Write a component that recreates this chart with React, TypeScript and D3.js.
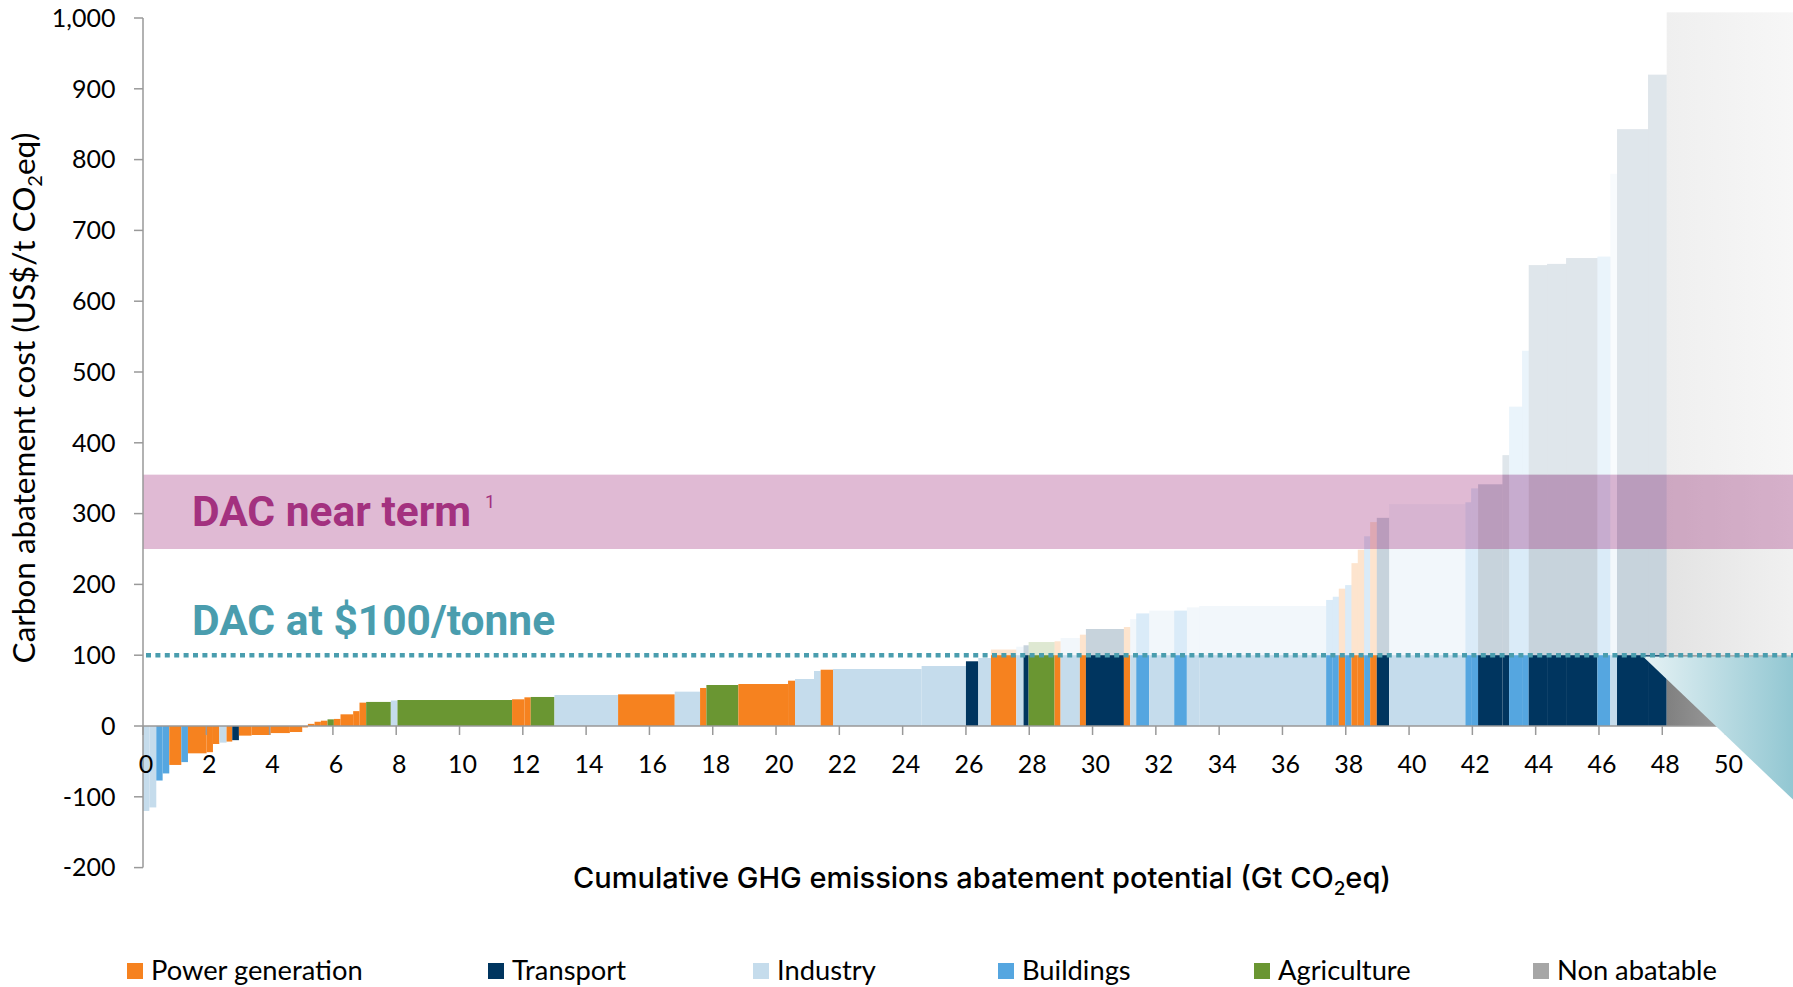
import React from 'react';
import * as d3 from 'd3';

// Sector categories and their colours
const PG = 'Power generation';
const TR = 'Transport';
const IN = 'Industry';
const BU = 'Buildings';
const AG = 'Agriculture';
const NA = 'Non abatable';
const sectors = [PG, TR, IN, BU, AG, NA];
const sectorColors = ['#F6821F', '#00355F', '#C5DCEC', '#55A6E0', '#6A9632', '#A6A6A6'];

// Abatement measures in merit order: sector, potential (Gt CO2eq), cost (US$/t CO2eq)
const measureSector = [
  IN, IN, BU, BU, PG, BU, PG, PG, PG, IN,
  PG, TR, PG, PG, PG, PG, PG, PG, PG, PG,
  AG, PG, PG, PG, PG, AG, IN, AG, PG, PG,
  AG, IN, PG, IN, PG, AG, PG, PG, IN, IN,
  PG, IN, IN, TR, IN, PG, IN, TR, AG, PG,
  IN, PG, TR, PG, IN, BU, IN, BU, IN, IN,
  BU, BU, PG, BU, PG, PG, BU, PG, TR, IN,
  BU, BU, TR, TR, BU, BU, TR, TR, TR, BU,
  IN, TR, TR, NA,
];
const measurePotential = [
  0.20, 0.22, 0.20, 0.21, 0.38, 0.21, 0.59, 0.20, 0.20, 0.23,
  0.18, 0.21, 0.40, 0.60, 0.61, 0.39, 0.18, 0.21, 0.20, 0.21,
  0.20, 0.21, 0.40, 0.20, 0.21, 0.78, 0.21, 3.62, 0.39, 0.20,
  0.75, 2.01, 1.79, 0.80, 0.20, 1.01, 1.57, 0.22, 0.60, 0.21,
  0.39, 2.80, 1.40, 0.39, 0.40, 0.80, 0.23, 0.16, 0.82, 0.19,
  0.61, 0.19, 1.20, 0.20, 0.19, 0.41, 0.79, 0.40, 0.39, 4.01,
  0.21, 0.19, 0.20, 0.20, 0.20, 0.20, 0.19, 0.21, 0.39, 2.41,
  0.18, 0.22, 0.77, 0.21, 0.41, 0.21, 0.58, 0.60, 0.99, 0.41,
  0.21, 0.98, 0.59, 4.10,
];
const measureCost = [
  -120, -115, -77, -67, -55, -51, -38.6, -37, -25.4, -23.5,
  -22, -20, -13.6, -12.7, -10, -8.5, -2, 3, 6, 7.5,
  9.4, 10, 16.5, 21, 33, 34, 36, 36.7, 37.7, 40.5,
  41, 43.8, 44.7, 48.5, 53.7, 57.9, 59.3, 64, 66.4, 77.7,
  79.5, 80.5, 84.7, 91.4, 96, 108, 112, 114, 118.6, 119.6,
  124.3, 129, 137, 139.8, 151, 159, 163, 163, 167.5, 169.5,
  178, 182.6, 194, 199, 230, 249, 268, 288, 294, 313.5,
  316, 335.6, 341.4, 382.6, 451, 530, 651, 652.7, 661, 663,
  780, 843, 920, 1008,
];

// Direct air capture reference costs (US$/t CO2eq)
const dacTargetCost = 100;
const dacNearTermRange = [250, 355];
// DAC wedge: cumulative potential (Gt) and cost (US$/t)
const dacWedge: [number, number][] = [[47.39, 98], [52.6, 98], [52.6, -124]];

// Axis ticks
const xTicks = d3.range(0, 51, 2);
const yTicks = d3.range(-200, 1001, 100);

const W = 1793;
const H = 987;

const x = d3.scaleLinear().domain([0, 52.13]).range([143, 1793]);
const y = d3.scaleLinear().domain([-200, 1000]).range([867.6, 18]);

const colorOf = d3.scaleOrdinal<string, string>().domain(sectors).range(sectorColors);
const fmtY = (v: number) => d3.format(',')(v).replace('\u2212', '-');

// Cumulative starts
const starts = measurePotential.reduce<number[]>((acc, w, i) => {
  acc.push(i === 0 ? 0 : acc[i - 1] + measurePotential[i - 1]);
  return acc;
}, []);

const measures = measureSector.map((s, i) => ({
  sector: s,
  x0: starts[i],
  x1: starts[i] + measurePotential[i],
  cost: measureCost[i],
}));

// Each bar: solid up to the DAC target, faded above it, fainter still above the near-term band
type Seg = { x0: number; x1: number; lo: number; hi: number; fill: string; op: number; key: string };
const segments: Seg[] = [];
measures.forEach((m, i) => {
  const fill = m.sector === NA ? 'url(#naGrad)' : colorOf(m.sector);
  if (m.cost < 0) {
    segments.push({ x0: m.x0, x1: m.x1, lo: m.cost, hi: 0, fill, op: 1, key: `s${i}` });
    return;
  }
  segments.push({ x0: m.x0, x1: m.x1, lo: 0, hi: Math.min(m.cost, dacTargetCost), fill, op: 1, key: `s${i}` });
  if (m.cost > dacTargetCost) {
    segments.push({ x0: m.x0, x1: m.x1, lo: dacTargetCost, hi: Math.min(m.cost, dacNearTermRange[1]), fill, op: 0.22, key: `m${i}` });
  }
  if (m.cost > dacNearTermRange[1]) {
    segments.push({ x0: m.x0, x1: m.x1, lo: dacNearTermRange[1], hi: m.cost, fill, op: 0.125, key: `u${i}` });
  }
});

const naStart = measures[measures.length - 1].x0;

const wedgePath = d3.line<[number, number]>()
  .x((d) => x(d[0]))
  .y((d) => y(d[1]))
  .curve(d3.curveLinearClosed)(dacWedge) as string;

const legendX = [127, 488, 753, 998, 1254, 1533];

export default function App() {
  return (
    <svg
      width={W}
      height={H}
      viewBox={`0 0 ${W} ${H}`}
      style={{ position: 'absolute', left: 0, top: 0, background: '#fff' }}
    >
      <defs>
        <linearGradient id="naGrad" gradientUnits="userSpaceOnUse" x1={x(naStart)} y1={0} x2={W} y2={0}>
          <stop offset="0" stopColor="#808080" />
          <stop offset="1" stopColor="#bcbcbc" />
        </linearGradient>
        <linearGradient id="dacGrad" gradientUnits="userSpaceOnUse" x1={x(dacWedge[0][0])} y1={0} x2={W} y2={0}>
          <stop offset="0" stopColor="#E6F2F5" />
          <stop offset="1" stopColor="#92C7D2" />
        </linearGradient>
      </defs>

      {/* abatement cost bars */}
      <g>
        {segments.map((s) => (
          <rect
            key={s.key}
            x={x(s.x0)}
            width={x(s.x1) - x(s.x0)}
            y={y(s.hi)}
            height={y(s.lo) - y(s.hi)}
            fill={s.fill}
            fillOpacity={s.op}
          />
        ))}
      </g>

      {/* DAC near-term cost band */}
      <rect
        x={x(0)}
        width={W - x(0)}
        y={y(dacNearTermRange[1])}
        height={y(dacNearTermRange[0]) - y(dacNearTermRange[1])}
        fill="#A3307F"
        fillOpacity={0.333}
      />

      {/* y axis */}
      <g fontFamily="Lato, sans-serif" fontSize={25} fill="#000">
        <line x1={x(0)} x2={x(0)} y1={y(1000)} y2={y(-200)} stroke="#999" strokeWidth={1.5} />
        {yTicks.map((t) => (
          <g key={t}>
            <line x1={x(0) - 9} x2={x(0)} y1={y(t)} y2={y(t)} stroke="#999" strokeWidth={1.5} />
            <text x={115.5} y={y(t)} dy="0.35em" textAnchor="end">
              {fmtY(t)}
            </text>
          </g>
        ))}
      </g>

      {/* x axis */}
      <g fontFamily="Lato, sans-serif" fontSize={25} fill="#000">
        <line x1={x(0)} x2={W} y1={y(0)} y2={y(0)} stroke="#999" strokeWidth={1.5} />
        {xTicks.map((t) => (
          <g key={t}>
            <line x1={x(t)} x2={x(t)} y1={y(0)} y2={y(0) + 9} stroke="#999" strokeWidth={1.5} />
            <text x={x(t) + 3} y={773} textAnchor="middle">
              {t}
            </text>
          </g>
        ))}
      </g>

      {/* DAC wedge */}
      <path d={wedgePath} fill="url(#dacGrad)" />

      {/* DAC target line */}
      <line
        x1={x(0) + 3}
        x2={W}
        y1={y(dacTargetCost)}
        y2={y(dacTargetCost)}
        stroke="#4A9DAE"
        strokeWidth={4.5}
        strokeDasharray="5 4.4"
      />

      {/* annotations */}
      <text x={192} y={526} fontFamily="Roboto, sans-serif" fontWeight={700} fontSize={42.5} fill="#A3317F">
        DAC near term
      </text>
      <text x={485} y={508} fontFamily="Roboto, sans-serif" fontSize={18} fill="#A3317F">
        1
      </text>
      <text x={192} y={635} fontFamily="Roboto, sans-serif" fontWeight={700} fontSize={42.5} fill="#4A9DAE">
        DAC at $100/tonne
      </text>

      {/* axis titles */}
      <text
        transform="translate(35, 398) rotate(-90)"
        textAnchor="middle"
        fontFamily="Lato, sans-serif"
        fontSize={31.5}
        fill="#000"
      >
        Carbon abatement cost (US$/t CO
        <tspan fontSize={20} dy={7}>2</tspan>
        <tspan dy={-7}>eq)</tspan>
      </text>
      <text x={982} y={888} textAnchor="middle" fontFamily="Inter, sans-serif" fontWeight={500} fontSize={29} fill="#000">
        Cumulative GHG emissions abatement potential (Gt CO
        <tspan fontSize={19} dy={7}>2</tspan>
        <tspan dy={-7}>eq)</tspan>
      </text>

      {/* legend */}
      <g fontFamily="Lato, sans-serif" fontSize={27.3} fill="#000">
        {sectors.map((s, i) => (
          <g key={s}>
            <rect x={legendX[i]} y={963} width={16} height={16} fill={sectorColors[i]} />
            <text x={legendX[i] + 24} y={980}>
              {s}
            </text>
          </g>
        ))}
      </g>
    </svg>
  );
}
